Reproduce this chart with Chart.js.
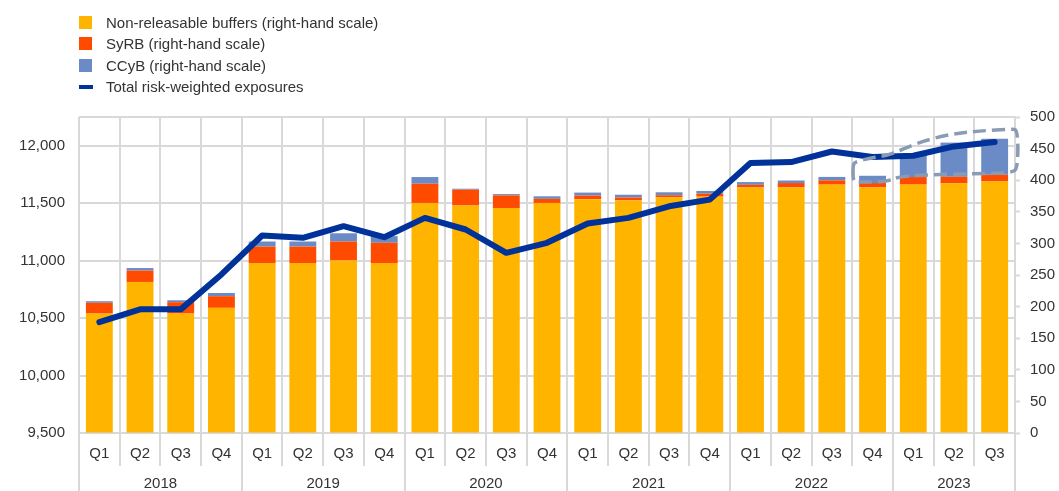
<!DOCTYPE html>
<html><head><meta charset="utf-8">
<script src="https://cdn.jsdelivr.net/npm/chart.js@4.4.1/dist/chart.umd.min.js"></script>
<style>
html,body{margin:0;padding:0;background:#fff;}
#wrap{position:relative;width:1059px;height:491px;}
#legend{position:absolute;left:79px;top:12px;font-family:"Liberation Sans",Arial,sans-serif;font-size:15px;color:#333;}
.item{height:21.3px;display:flex;align-items:center;white-space:nowrap;}
.sw{width:13px;height:13px;margin-right:14px;flex:none;}
.ln{width:14px;height:4px;margin-right:13px;flex:none;}
</style></head>
<body><div id="wrap"><canvas id="c" width="1059" height="491"></canvas><div id="legend"></div></div>
<script>
const quarters = ['Q1','Q2','Q3','Q4','Q1','Q2','Q3','Q4','Q1','Q2','Q3','Q4','Q1','Q2','Q3','Q4','Q1','Q2','Q3','Q4','Q1','Q2','Q3'];
const years = ['2018','2019','2020','2021','2022','2023'];
const quartersPerYear = [4,4,4,4,4,3];
const nonReleasable = [189,239,189,198,269,269,273,269,364,360,356,364,370,368,373,374,388.5,388.5,393,388.5,393,395,398];
const syrb = [17,18,18,18.5,26,26,30,32,30.5,25,20,6.5,5.7,4.7,3.2,4.7,4.2,7,6.8,7,12,10.5,10.5];
const ccyb = [2.5,4,3,5,8,8,13,10.5,10.5,1.5,2,4,4.7,4.3,4.7,4.3,4.3,4,5.4,11.5,35,54,57];
const totalRWE = [10465,10576,10576,10880,11219,11199,11300,11204,11372,11271,11068,11155,11323,11372,11473,11531,11850,11858,11950,11902,11913,11994,12032];
const leftTickValues = [9500,10000,10500,11000,11500,12000];
const leftRange = {min:9500, max:12250};
const rightRange = {min:0, max:500, step:50};

const COL = {yellow:'#ffb400', red:'#ff4b00', blue:'#6b8bc6', line:'#003299', grid:'#d9d9d9', text:'#333333', dash:'#8a9bb5'};
const FONT = {family:'"Liberation Sans", Arial, sans-serif', size:15};

// year row positions (in category units on a 0..N axis)
const yearBounds = [0]; const yearCenters = [];
quartersPerYear.forEach((n,i)=>{ const s = yearBounds[i]; yearCenters.push(s + n/2); yearBounds.push(s+n); });

// highlight shape around CCyB build-up (index, right-axis value)
const highlight = [[18.52,424],[18.57,429],[18.94,435],[19.43,440],[20.09,459],[20.9,473],[21.64,478],[22.42,481],[22.57,479.5],[22.57,419.5],[22.42,411.7],[21.47,410],[20.24,408.5],[19.62,405.4],[19.35,397.5],[18.59,396.7],[18.52,400]];

const highlightPlugin = {
  id:'highlight',
  afterDatasetsDraw(chart){
    const {ctx, scales:{x, yR}} = chart;
    const p = highlight.map(([i,v])=>[x.getPixelForValue(i), yR.getPixelForValue(v)]);
    const n = p.length;
    const mid = (a,b)=>[(a[0]+b[0])/2,(a[1]+b[1])/2];
    ctx.save();
    ctx.beginPath();
    let m = mid(p[n-1],p[0]);
    ctx.moveTo(m[0],m[1]);
    for(let k=0;k<n;k++){
      const c = p[k], nx = mid(p[k], p[(k+1)%n]);
      ctx.quadraticCurveTo(c[0],c[1],nx[0],nx[1]);
    }
    ctx.closePath();
    ctx.setLineDash([13,6]);
    ctx.lineWidth = 3.5;
    ctx.strokeStyle = COL.dash;
    ctx.stroke();
    ctx.restore();
  }
};

const chart = new Chart(document.getElementById('c'), {
  type:'bar',
  data:{labels:quarters, datasets:[
    {type:'line', label:'Total risk-weighted exposures', data:totalRWE, yAxisID:'yL', borderColor:COL.line, backgroundColor:COL.line, borderWidth:6, pointRadius:0, tension:0, order:0, borderJoinStyle:'round', borderCapStyle:'round'},
    {label:'Non-releasable buffers (right-hand scale)', data:nonReleasable, backgroundColor:COL.yellow, yAxisID:'yR', stack:'s', order:1},
    {label:'SyRB (right-hand scale)', data:syrb, backgroundColor:COL.red, yAxisID:'yR', stack:'s', order:1},
    {label:'CCyB (right-hand scale)', data:ccyb, backgroundColor:COL.blue, yAxisID:'yR', stack:'s', order:1}
  ]},
  options:{
    responsive:false, animation:false, devicePixelRatio:1,
    layout:{padding:{top:117,left:0,right:0,bottom:0}},
    plugins:{legend:{display:false}, tooltip:{enabled:false}},
    datasets:{bar:{barPercentage:0.66, categoryPercentage:1}},
    scales:{
      yL:{type:'linear', position:'left', min:leftRange.min, max:leftRange.max,
        afterBuildTicks:(s)=>{ s.ticks = [...leftTickValues, leftRange.max].map(v=>({value:v})); },
        ticks:{font:FONT, color:COL.text, padding:14, autoSkip:false,
          callback:(v)=> leftTickValues.includes(v) ? v.toLocaleString('en-US') : ''},
        grid:{color:COL.grid, lineWidth:2, drawTicks:false},
        border:{display:false},
        afterFit:(s)=>{s.width = 79;}
      },
      yR:{type:'linear', position:'right', min:rightRange.min, max:rightRange.max, stacked:true,
        ticks:{stepSize:rightRange.step, font:FONT, color:COL.text, padding:10, autoSkip:false},
        grid:{drawOnChartArea:false, drawTicks:true, tickLength:5, tickColor:COL.grid, tickWidth:2},
        border:{display:true, color:COL.grid, width:2},
        afterFit:(s)=>{s.width = 44;}
      },
      x:{type:'category', position:'bottom', stacked:true, weight:0, offset:true,
        grid:{offset:true, color:COL.grid, lineWidth:2, drawOnChartArea:true, drawTicks:true, tickLength:33, tickColor:COL.grid, tickWidth:2},
        border:{display:false},
        ticks:{font:FONT, color:COL.text, padding:-21, maxRotation:0, autoSkip:false},
        afterFit:(s)=>{s.height = 33;}
      },
      x2:{type:'linear', position:'bottom', weight:1, min:0, max:quarters.length, offset:false,
        afterBuildTicks:(s)=>{ s.ticks = [...yearBounds, ...yearCenters].sort((a,b)=>a-b).map(v=>({value:v})); },
        ticks:{font:FONT, color:COL.text, padding:-17, maxRotation:0, autoSkip:false,
          callback:(v)=>{ const i = yearCenters.indexOf(v); return i>=0 ? years[i] : ''; }},
        grid:{offset:false, drawOnChartArea:false, drawTicks:true, tickLength:26, lineWidth:2, tickWidth:2,
          tickColor:(c)=> yearBounds.includes(c.tick && c.tick.value) ? COL.grid : 'rgba(0,0,0,0)',
          color:'rgba(0,0,0,0)'},
        border:{display:false},
        afterFit:(s)=>{s.height = 25;}
      }
    }
  },
  plugins:[highlightPlugin]
});

// HTML legend built from chart datasets
const legendOrder = [1,2,3,0];
const lg = document.getElementById('legend');
legendOrder.forEach(i=>{
  const ds = chart.data.datasets[i];
  const d = document.createElement('div'); d.className='item';
  const m = document.createElement('span'); m.className = ds.type==='line' ? 'ln' : 'sw';
  m.style.background = ds.type==='line' ? ds.borderColor : ds.backgroundColor;
  const t = document.createElement('span'); t.textContent = ds.label;
  d.appendChild(m); d.appendChild(t); lg.appendChild(d);
});
</script>
</body></html>
